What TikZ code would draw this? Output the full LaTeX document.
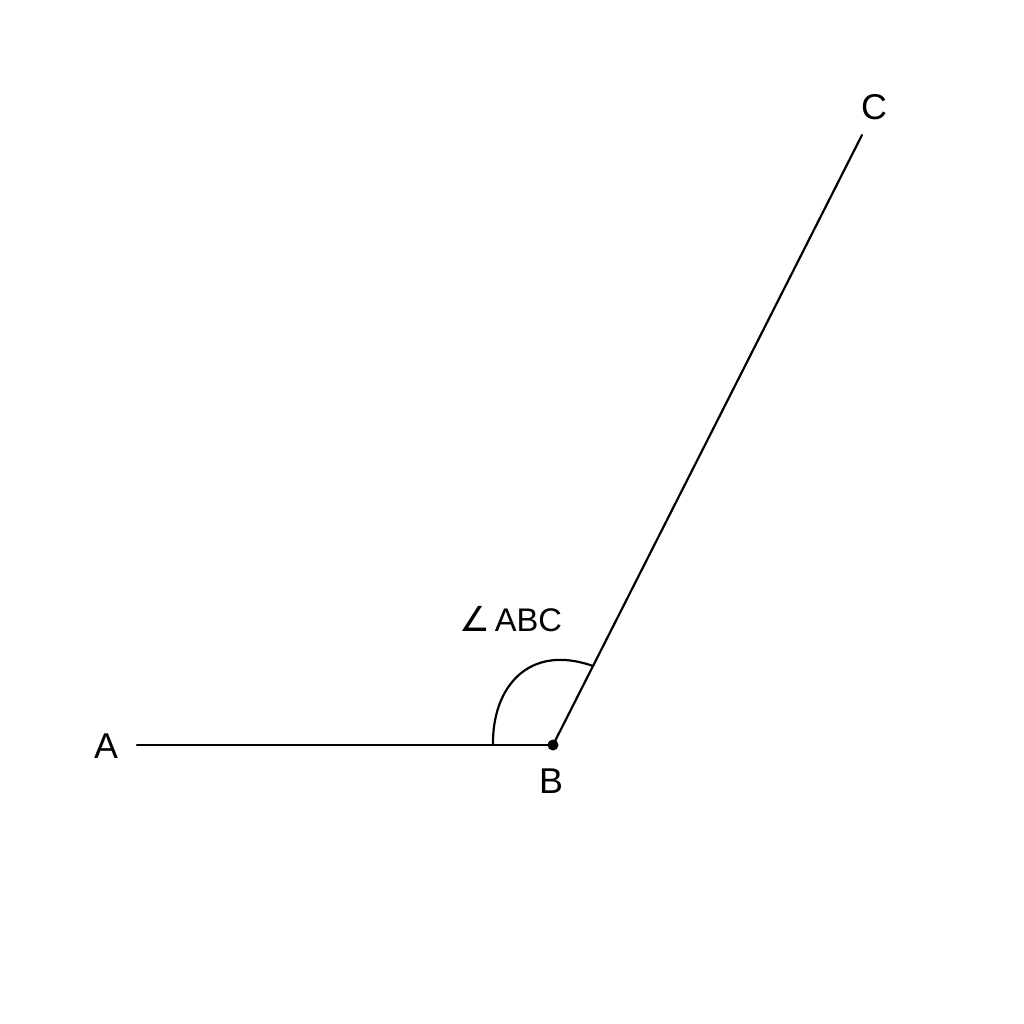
\documentclass[tikz,border=0pt]{standalone}
\usepackage{fontspec}
\setmainfont{Liberation Sans}
\newfontfamily\symfont{DejaVu Sans}
\begin{document}
\begin{tikzpicture}[x=0.01cm,y=-0.01cm]
        \tikzset{ray/.style = {line width=0.62pt,line cap=round}}
        \tikzset{ptlabel/.style = {font=\fontsize{10.2}{12}\selectfont,inner sep=0pt}}
        \useasboundingbox[fill=white] (0,0) rectangle (1024,1024);
        % the vertex and the ends of the two rays
        \coordinate (b) at (553,745);
        \coordinate (aend) at (137,745);
        \coordinate (cend) at (862,135);
        \coordinate (arcstart) at (493,745);
        \coordinate (arcend) at (593,666);
        % labels of the points
        \node[ptlabel] (a) at (106,746) {A};
        \node[ptlabel] (blabel) at (551,781) {B};
        \node[ptlabel] (c) at (874,107) {C};
        \node[font=\fontsize{9.3}{11}\selectfont,inner sep=0pt] (angle) at (511,619) {{\symfont\fontsize{9.8}{11}\selectfont ∠}\hspace{0.12em}ABC};
        % the two rays
        \draw[ray] (aend) -- (b);
        \draw[ray] (b) -- (cend);
        % angle mark
        \draw[ray] (arcstart) .. controls (492,688) and (528,643) .. (arcend);
        \fill (b) circle (5.5);
\end{tikzpicture}
\end{document}
